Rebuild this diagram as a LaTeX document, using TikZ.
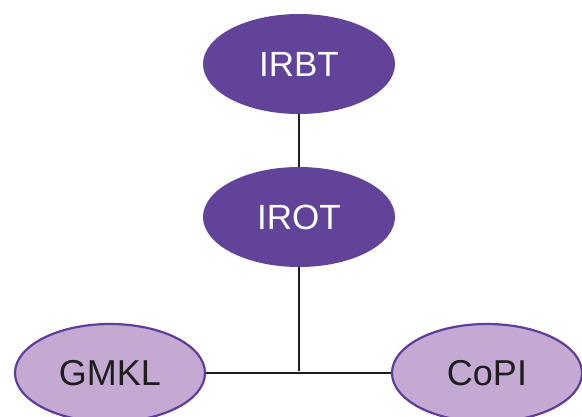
\documentclass[tikz,border=0pt]{standalone}
\usepackage{fontspec}
\setmainfont{Liberation Sans}
\usetikzlibrary{shapes.geometric}
\definecolor{darkp}{HTML}{62439A}
\definecolor{lightp}{HTML}{C4A9D2}
\definecolor{edgep}{HTML}{5E3E9B}
\definecolor{ink}{HTML}{1E1E1E}
\tikzset{
  darknode/.style={ellipse, fill=darkp, draw=none, minimum width=192pt, minimum height=100pt, inner sep=0pt, text=white, font=\fontsize{35}{40}\selectfont},
  lightnode/.style={ellipse, fill=lightp, draw=edgep, line width=2.2pt, minimum width=190pt, minimum height=98pt, inner sep=0pt, text=ink, font=\fontsize{36}{40}\selectfont},
  link/.style={draw=ink, line width=2.4pt}
}
\begin{document}
\begin{tikzpicture}[x=1pt,y=-1pt]
\useasboundingbox (0,0) rectangle (582,416);
\node[darknode] (irbt) at (299,64) {IRBT};
\node[darknode] (irot) at (299,217) {IROT};
\node[lightnode] (gmkl) at (110,373) {GMKL};
\node[lightnode] (copi) at (487,373) {CoPI};
\coordinate (j) at (299,371);
\draw[link] (irbt) -- (irot);
\draw[link] (irot) -- (j);
\draw[link] (gmkl.east) -- (copi.west);
\end{tikzpicture}
\end{document}
